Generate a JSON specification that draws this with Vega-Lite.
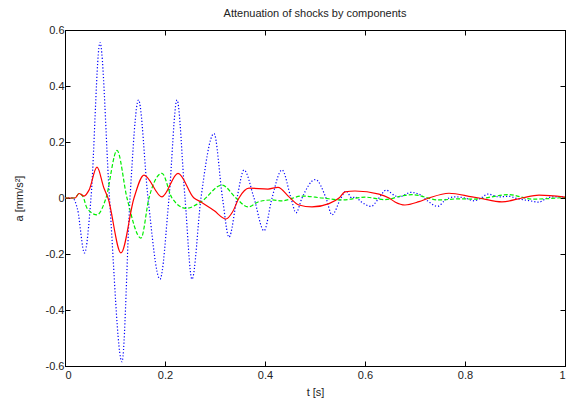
{
  "$schema": "https://vega.github.io/schema/vega-lite/v6.json",
  "width": 500,
  "height": 336,
  "autosize": {"type": "none"},
  "padding": {"left": 65, "top": 30, "right": 7, "bottom": 37},
  "title": {
    "text": "Attenuation of shocks by components",
    "font": "Liberation Sans",
    "fontSize": 11,
    "fontWeight": "normal",
    "color": "#222222",
    "anchor": "middle",
    "offset": 5
  },
  "datasets": {
    "blue": [
      {"t": 0, "a": 0}, {"t": 0.015, "a": 0}, {"t": 0.025, "a": -0.04}, {"t": 0.039, "a": -0.196},
      {"t": 0.052, "a": 0}, {"t": 0.07, "a": 0.555}, {"t": 0.089, "a": 0}, {"t": 0.114, "a": -0.585},
      {"t": 0.13, "a": 0}, {"t": 0.147, "a": 0.35}, {"t": 0.166, "a": 0}, {"t": 0.19, "a": -0.29},
      {"t": 0.208, "a": 0}, {"t": 0.224, "a": 0.35}, {"t": 0.24, "a": 0}, {"t": 0.254, "a": -0.29},
      {"t": 0.272, "a": 0}, {"t": 0.298, "a": 0.23}, {"t": 0.315, "a": 0}, {"t": 0.328, "a": -0.14},
      {"t": 0.344, "a": 0}, {"t": 0.358, "a": 0.1}, {"t": 0.378, "a": 0}, {"t": 0.398, "a": -0.117},
      {"t": 0.414, "a": 0}, {"t": 0.434, "a": 0.1}, {"t": 0.452, "a": 0}, {"t": 0.462, "a": -0.053},
      {"t": 0.474, "a": 0}, {"t": 0.501, "a": 0.066}, {"t": 0.522, "a": 0}, {"t": 0.534, "a": -0.06},
      {"t": 0.552, "a": 0}, {"t": 0.562, "a": 0.025}, {"t": 0.574, "a": 0.0}, {"t": 0.58, "a": 0.004},
      {"t": 0.592, "a": -0.013}, {"t": 0.612, "a": -0.03}, {"t": 0.628, "a": 0}, {"t": 0.642, "a": 0.028},
      {"t": 0.66, "a": 0.008}, {"t": 0.668, "a": 0.004}, {"t": 0.692, "a": 0.02}, {"t": 0.71, "a": 0.012},
      {"t": 0.725, "a": -0.01}, {"t": 0.745, "a": -0.03}, {"t": 0.762, "a": -0.005}, {"t": 0.78, "a": 0.004},
      {"t": 0.8, "a": 0.0}, {"t": 0.818, "a": -0.01}, {"t": 0.832, "a": 0.0}, {"t": 0.846, "a": 0.014},
      {"t": 0.868, "a": 0.004}, {"t": 0.888, "a": 0.006}, {"t": 0.904, "a": -0.002}, {"t": 0.93, "a": -0.01},
      {"t": 0.948, "a": -0.015}, {"t": 0.962, "a": -0.002}, {"t": 0.974, "a": 0.004}, {"t": 1.0, "a": 0.004}
    ],
    "green": [
      {"t": 0, "a": 0}, {"t": 0.02, "a": 0}, {"t": 0.028, "a": 0.016}, {"t": 0.036, "a": 0.005},
      {"t": 0.044, "a": -0.036}, {"t": 0.064, "a": -0.06}, {"t": 0.082, "a": 0}, {"t": 0.104, "a": 0.17},
      {"t": 0.124, "a": 0}, {"t": 0.152, "a": -0.143}, {"t": 0.168, "a": 0}, {"t": 0.194, "a": 0.088},
      {"t": 0.214, "a": 0}, {"t": 0.242, "a": -0.037}, {"t": 0.272, "a": -0.014}, {"t": 0.314, "a": 0.046},
      {"t": 0.342, "a": 0.0}, {"t": 0.366, "a": -0.032}, {"t": 0.388, "a": -0.013}, {"t": 0.414, "a": -0.007},
      {"t": 0.434, "a": -0.01}, {"t": 0.474, "a": 0.007}, {"t": 0.514, "a": 0.0}, {"t": 0.554, "a": -0.007},
      {"t": 0.6, "a": 0.003}, {"t": 0.64, "a": -0.006}, {"t": 0.674, "a": 0.008}, {"t": 0.694, "a": 0.012},
      {"t": 0.748, "a": -0.007}, {"t": 0.788, "a": -0.003}, {"t": 0.818, "a": -0.004}, {"t": 0.888, "a": 0.012},
      {"t": 0.934, "a": -0.004}, {"t": 1.0, "a": 0.002}
    ],
    "red": [
      {"t": 0, "a": 0}, {"t": 0.02, "a": 0}, {"t": 0.028, "a": 0.016}, {"t": 0.038, "a": 0.007},
      {"t": 0.048, "a": 0.028}, {"t": 0.064, "a": 0.11}, {"t": 0.078, "a": 0.035}, {"t": 0.086, "a": 0},
      {"t": 0.112, "a": -0.196}, {"t": 0.138, "a": 0}, {"t": 0.158, "a": 0.082}, {"t": 0.194, "a": 0.004},
      {"t": 0.226, "a": 0.088}, {"t": 0.258, "a": 0}, {"t": 0.272, "a": -0.014}, {"t": 0.298, "a": -0.045},
      {"t": 0.322, "a": -0.075}, {"t": 0.335, "a": -0.05}, {"t": 0.348, "a": 0}, {"t": 0.368, "a": 0.035},
      {"t": 0.406, "a": 0.032}, {"t": 0.426, "a": 0.038}, {"t": 0.448, "a": 0.004}, {"t": 0.468, "a": -0.025},
      {"t": 0.494, "a": -0.032}, {"t": 0.528, "a": -0.02}, {"t": 0.548, "a": 0}, {"t": 0.56, "a": 0.022},
      {"t": 0.58, "a": 0.025}, {"t": 0.628, "a": 0.014}, {"t": 0.648, "a": 0}, {"t": 0.66, "a": -0.014},
      {"t": 0.68, "a": -0.025}, {"t": 0.708, "a": -0.013}, {"t": 0.728, "a": 0}, {"t": 0.768, "a": 0.017},
      {"t": 0.814, "a": 0.004}, {"t": 0.828, "a": 0}, {"t": 0.874, "a": -0.014}, {"t": 0.914, "a": 0},
      {"t": 0.948, "a": 0.01}, {"t": 1.0, "a": 0.003}
    ]
  },
  "layer": [
    {
      "data": {"name": "blue"},
      "mark": {"type": "line", "color": "#0000ff", "strokeWidth": 1.2, "strokeDash": [1.2, 2], "interpolate": "monotone", "clip": true},
      "encoding": {
        "x": {
          "field": "t", "type": "quantitative",
          "scale": {"domain": [0, 1], "nice": false},
          "axis": {"orient": "bottom", "title": "t [s]", "values": [0, 0.2, 0.4, 0.6, 0.8, 1], "format": "~g", "labelPadding": 8, "titlePadding": 6}
        },
        "y": {
          "field": "a", "type": "quantitative",
          "scale": {"domain": [-0.6, 0.6], "nice": false},
          "axis": {
            "orient": "left", "title": "a [mm/s²]",
            "values": [-0.6, -0.4, -0.2, 0, 0.2, 0.4, 0.6], "format": "~g",
            "labelExpr": "replace(datum.label, '\u2212', '-')",
            "labelPadding": 6, "titlePadding": 21
          }
        }
      }
    },
    {
      "data": {"name": "green"},
      "mark": {"type": "line", "color": "#00ee00", "strokeWidth": 1.2, "strokeDash": [4, 2], "interpolate": "monotone", "clip": true},
      "encoding": {
        "x": {"field": "t", "type": "quantitative", "axis": null},
        "y": {"field": "a", "type": "quantitative", "axis": null}
      }
    },
    {
      "data": {"name": "red"},
      "mark": {"type": "line", "color": "#ff0000", "strokeWidth": 1.2, "interpolate": "monotone", "clip": true},
      "encoding": {
        "x": {"field": "t", "type": "quantitative", "axis": null},
        "y": {"field": "a", "type": "quantitative", "axis": null}
      }
    },
    {
      "data": {"name": "red"},
      "mark": {"type": "line", "opacity": 0},
      "encoding": {
        "x": {
          "field": "t", "type": "quantitative",
          "axis": {"orient": "top", "title": null, "labels": false, "values": [0, 0.2, 0.4, 0.6, 0.8, 1]}
        },
        "y": {
          "field": "a", "type": "quantitative",
          "axis": {"orient": "right", "title": null, "labels": false, "values": [-0.6, -0.4, -0.2, 0, 0.2, 0.4, 0.6]}
        }
      }
    }
  ],
  "resolve": {"axis": {"x": "independent", "y": "independent"}},
  "config": {
    "view": {"stroke": "#000000", "strokeWidth": 1},
    "axis": {
      "grid": false,
      "domainColor": "#000000",
      "domainWidth": 1,
      "tickColor": "#000000",
      "tickSize": -5,
      "tickWidth": 1,
      "labelFont": "Liberation Sans",
      "labelFontSize": 11,
      "labelColor": "#222222",
      "titleFont": "Liberation Sans",
      "titleFontSize": 11,
      "titleFontWeight": "normal",
      "titleColor": "#222222"
    }
  }
}
